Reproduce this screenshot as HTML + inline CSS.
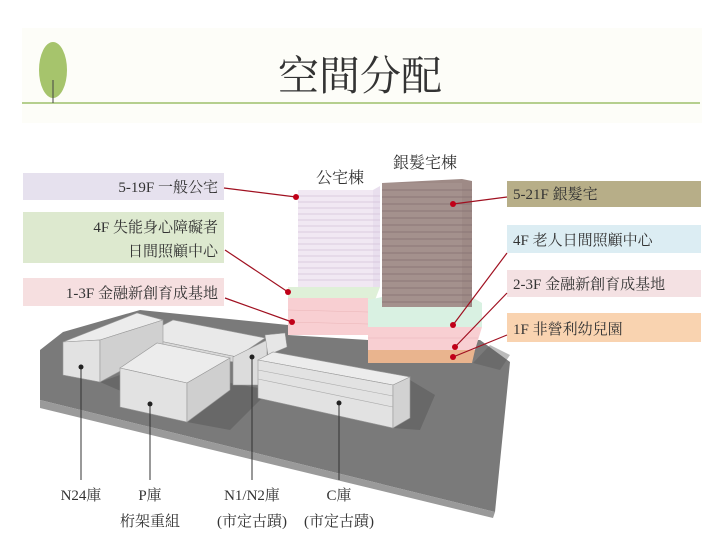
<!DOCTYPE html>
<html><head><meta charset="utf-8"><style>
html,body{margin:0;padding:0;background:#fff;}
svg{display:block;}
text{font-family:"Liberation Serif","Noto Serif CJK SC","Noto Sans CJK TC",serif;fill:#333;}
</style></head><body>
<svg width="720" height="537" viewBox="0 0 720 537" xmlns="http://www.w3.org/2000/svg">
<rect width="720" height="537" fill="#fff"/>
<rect x="22" y="28" width="680" height="95" fill="#fdfdf8"/>
<line x1="22" y1="103" x2="700" y2="103" stroke="#b5cf8e" stroke-width="2"/>
<ellipse cx="53" cy="70" rx="14" ry="28" fill="#a6c46c"/>
<line x1="53" y1="80" x2="53" y2="103" stroke="#444" stroke-width="1"/>
<text x="360" y="90" font-size="41" text-anchor="middle" fill="#222">空間分配</text>

<polygon points="40,350 63,332 140,310 288,325 288,335 368,340 480,340 510,362 495,512 40,400" fill="#7a7a7a"/>
<polygon points="40,400 495,512 493,518 40,408" fill="#9a9a9a"/>
<polygon points="100,382 163,360 200,365 130,395" fill="#555" opacity="0.5"/>
<polygon points="187,422 230,383 270,390 230,430" fill="#555" opacity="0.5"/>
<polygon points="393,428 410,380 435,395 420,430" fill="#555" opacity="0.5"/>
<polygon points="473,363 490,345 510,355 500,370" fill="#555" opacity="0.4"/>

<polygon points="140,337 173,320 265,338 237,357" fill="#e9e9e9" stroke="#999" stroke-width="0.6"/>
<polygon points="140,337 237,357 237,362 145,355" fill="#d8d8d8" stroke="#999" stroke-width="0.6"/>
<polygon points="233,357 267,340 267,385 233,385" fill="#dcdcdc" stroke="#999" stroke-width="0.6"/>
<polygon points="265,335 285,333 287,347 268,355" fill="#e6e6e6" stroke="#999" stroke-width="0.5"/>
<polygon points="63,342 137,313 163,320 100,340" fill="#ececec" stroke="#999" stroke-width="0.6"/>
<polygon points="63,342 100,340 100,382 63,375" fill="#e2e2e2" stroke="#999" stroke-width="0.6"/>
<polygon points="100,340 163,320 163,348 100,382" fill="#d0d0d0" stroke="#999" stroke-width="0.6"/>
<polygon points="120,368 157,343 230,358 187,383" fill="#ececec" stroke="#999" stroke-width="0.6"/>
<polygon points="120,368 187,383 187,422 120,407" fill="#e2e2e2" stroke="#999" stroke-width="0.6"/>
<polygon points="187,383 230,358 230,390 187,422" fill="#cfcfcf" stroke="#999" stroke-width="0.6"/>
<polygon points="258,360 273,352 410,377 393,385" fill="#ececec" stroke="#999" stroke-width="0.6"/>
<polygon points="258,360 393,385 393,428 258,398" fill="#e2e2e2" stroke="#999" stroke-width="0.6"/>
<line x1="258" y1="370" x2="393" y2="396" stroke="#aaa" stroke-width="0.6"/>
<line x1="258" y1="379" x2="393" y2="407" stroke="#aaa" stroke-width="0.6"/>
<polygon points="393,385 410,377 410,418 393,428" fill="#d2d2d2" stroke="#999" stroke-width="0.6"/>

<polygon points="298,190 373,190 380,186 380,287 373,287" fill="#e9dfee"/>
<rect x="298" y="190" width="75" height="97" fill="#f1e8f3"/>
<g stroke="#d3c3d9" stroke-width="0.7">
<line x1="298" y1="196" x2="380" y2="196"/><line x1="298" y1="202" x2="380" y2="202"/><line x1="298" y1="208" x2="380" y2="208"/><line x1="298" y1="214" x2="380" y2="214"/><line x1="298" y1="220" x2="380" y2="220"/><line x1="298" y1="226" x2="380" y2="226"/><line x1="298" y1="232" x2="380" y2="232"/><line x1="298" y1="238" x2="380" y2="238"/><line x1="298" y1="244" x2="380" y2="244"/><line x1="298" y1="250" x2="380" y2="250"/><line x1="298" y1="256" x2="380" y2="256"/><line x1="298" y1="262" x2="380" y2="262"/><line x1="298" y1="268" x2="380" y2="268"/><line x1="298" y1="274" x2="380" y2="274"/><line x1="298" y1="280" x2="380" y2="280"/>
</g>
<polygon points="288,287 380,287 375,300 288,298" fill="#dff0d8"/>
<rect x="288" y="298" width="80" height="37" fill="#f8cfd2"/>
<line x1="288" y1="310" x2="368" y2="312" stroke="#eab5b8" stroke-width="0.6"/>
<line x1="288" y1="322" x2="368" y2="324" stroke="#eab5b8" stroke-width="0.6"/>
<polygon points="368,300 382,297 472,297 482,303 482,327 368,327" fill="#d9f1e2"/>
<polygon points="368,327 482,327 475,350 368,350" fill="#f8cfd2"/>
<line x1="368" y1="338" x2="478" y2="338" stroke="#eab5b8" stroke-width="0.6"/>
<polygon points="368,350 475,350 472,363 368,363" fill="#e9b48e"/>
<polygon points="382,183 462,179 472,181 472,307 382,307" fill="#9e8a86"/>
<rect x="382" y="183" width="80" height="124" fill="#a4918d"/>
<g stroke="#857170" stroke-width="0.7">
<line x1="382" y1="190" x2="472" y2="190"/><line x1="382" y1="197" x2="472" y2="197"/><line x1="382" y1="204" x2="472" y2="204"/><line x1="382" y1="211" x2="472" y2="211"/><line x1="382" y1="218" x2="472" y2="218"/><line x1="382" y1="225" x2="472" y2="225"/><line x1="382" y1="232" x2="472" y2="232"/><line x1="382" y1="239" x2="472" y2="239"/><line x1="382" y1="246" x2="472" y2="246"/><line x1="382" y1="253" x2="472" y2="253"/><line x1="382" y1="260" x2="472" y2="260"/><line x1="382" y1="267" x2="472" y2="267"/><line x1="382" y1="274" x2="472" y2="274"/><line x1="382" y1="281" x2="472" y2="281"/><line x1="382" y1="288" x2="472" y2="288"/><line x1="382" y1="295" x2="472" y2="295"/><line x1="382" y1="302" x2="472" y2="302"/>
</g>
<text x="340" y="183" font-size="16" text-anchor="middle" fill="#555">公宅棟</text>
<text x="425" y="168" font-size="16" text-anchor="middle" fill="#555">銀髮宅棟</text>

<rect x="23" y="173" width="201" height="27" fill="#e6e1ee"/>
<rect x="23" y="212" width="201" height="51" fill="#dde9cf"/>
<rect x="23" y="278" width="201" height="28" fill="#f6dfe0"/>
<rect x="507" y="181" width="194" height="26" fill="#b7ae88"/>
<rect x="507" y="225" width="194" height="28" fill="#dcedf3"/>
<rect x="507" y="270" width="194" height="27" fill="#f4e1e3"/>
<rect x="507" y="313" width="194" height="29" fill="#f9d3b0"/>
<g font-size="15" text-anchor="end">
<text x="218" y="192">5-19F  一般公宅</text>
<text x="218" y="232">4F  失能身心障礙者</text>
<text x="218" y="256">日間照顧中心</text>
<text x="218" y="298">1-3F  金融新創育成基地</text>
</g>
<g font-size="15">
<text x="513" y="199">5-21F  銀髮宅</text>
<text x="513" y="245">4F  老人日間照顧中心</text>
<text x="513" y="289">2-3F  金融新創育成基地</text>
<text x="513" y="334">1F  非營利幼兒園</text>
</g>
<g stroke="#a01020" stroke-width="1.2">
<line x1="224" y1="188" x2="296" y2="197"/>
<line x1="225" y1="250" x2="288" y2="292"/>
<line x1="225" y1="298" x2="292" y2="322"/>
<line x1="507" y1="197" x2="453" y2="204"/>
<line x1="507" y1="253" x2="453" y2="325"/>
<line x1="507" y1="293" x2="455" y2="347"/>
<line x1="507" y1="335" x2="453" y2="357"/>
</g>
<g fill="#c00018">
<circle cx="296" cy="197" r="3"/><circle cx="288" cy="292" r="3"/><circle cx="292" cy="322" r="3"/>
<circle cx="453" cy="204" r="3"/><circle cx="453" cy="325" r="3"/><circle cx="455" cy="347" r="3"/><circle cx="453" cy="357" r="3"/>
</g>
<g stroke="#333" stroke-width="1">
<line x1="81" y1="367" x2="81" y2="480"/>
<line x1="150" y1="404" x2="150" y2="480"/>
<line x1="252" y1="357" x2="252" y2="480"/>
<line x1="339" y1="403" x2="339" y2="480"/>
</g>
<g fill="#222"><circle cx="81" cy="367" r="2.5"/><circle cx="150" cy="404" r="2.5"/><circle cx="252" cy="357" r="2.5"/><circle cx="339" cy="403" r="2.5"/></g>
<g font-size="15" text-anchor="middle">
<text x="81" y="500">N24庫</text>
<text x="150" y="500">P庫</text>
<text x="252" y="500">N1/N2庫</text>
<text x="339" y="500">C庫</text>
<text x="150" y="526">桁架重組</text>
<text x="252" y="526">(市定古蹟)</text>
<text x="339" y="526">(市定古蹟)</text>
</g>
</svg>
</body></html>
